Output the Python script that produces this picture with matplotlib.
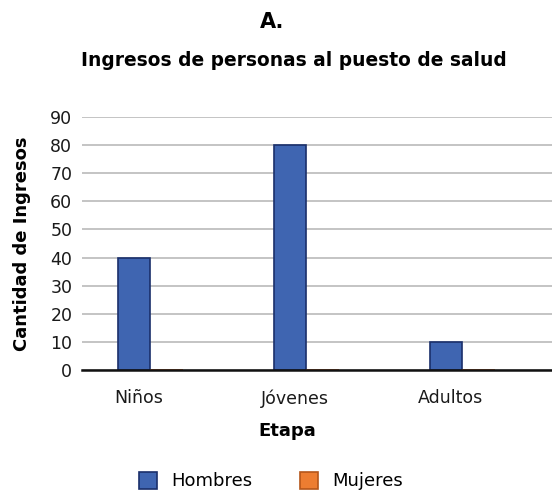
import matplotlib
matplotlib.use("Agg")
import matplotlib.pyplot as plt
import numpy as np

categories = ["Niños", "Jóvenes", "Adultos"]
hombres = [40, 80, 10]
mujeres = [0, 0, 0]
series_names = ["Hombres", "Mujeres"]
yticks = [0, 10, 20, 30, 40, 50, 60, 70, 80, 90]

plt.rcParams['font.family'] = ['DejaVu Sans']

fig = plt.figure(figsize=(5.52, 4.99), dpi=100)
ax = fig.add_axes([0.1486, 0.2585, 0.8514, 0.507])

x = np.arange(len(categories))
w = 0.21
b1 = ax.bar(x, hombres, width=w, color="#3F65B1", edgecolor="#1A2F6B", linewidth=1.2,
            zorder=3, label=series_names[0])
b2 = ax.bar(x + w, mujeres, width=w, color="#ED7D31", edgecolor="#B5561A", linewidth=1.2,
            zorder=3, label=series_names[1])

ax.set_ylim(0, 90)
ax.set_xlim(-0.333, 2.68)
ax.set_yticks(yticks)
ax.set_xticks(x + 0.03)
ax.set_xticklabels(categories)
ax.yaxis.grid(True, color="#C4C4C4", linewidth=1.4, zorder=0)
ax.set_axisbelow(True)
for s in ["top", "right", "left"]:
    ax.spines[s].set_visible(False)
ax.spines["bottom"].set_linewidth(1.8)
ax.spines["bottom"].set_color("#111111")
ax.spines["bottom"].set_zorder(4)
ax.tick_params(axis="both", length=0, labelsize=12.5, colors="#1A1A1A")
ax.tick_params(axis="x", pad=14)
ax.tick_params(axis="y", pad=7)

ax.set_xlabel("Etapa", fontsize=13, fontweight="bold", labelpad=10)
ax.xaxis.label.set_x(0.436)
ax.set_ylabel("Cantidad de Ingresos", fontsize=13, fontweight="bold", labelpad=14)

fig.text(272/552, 1 - 22/499, "A.", ha="center", va="center", fontsize=15, fontweight="bold")
fig.text(294/552, 1 - 61/499, "Ingresos de personas al puesto de salud", ha="center",
         va="center", fontsize=13.4, fontweight="bold")

fig.legend(handles=[b1, b2], labels=series_names, loc="center",
           bbox_to_anchor=(0.491, 1 - 481/499), ncol=2, frameon=False,
           fontsize=13, handlelength=1.0, handleheight=1.1, columnspacing=2.6,
           handletextpad=0.8)

fig.savefig("out.png", dpi=100)
